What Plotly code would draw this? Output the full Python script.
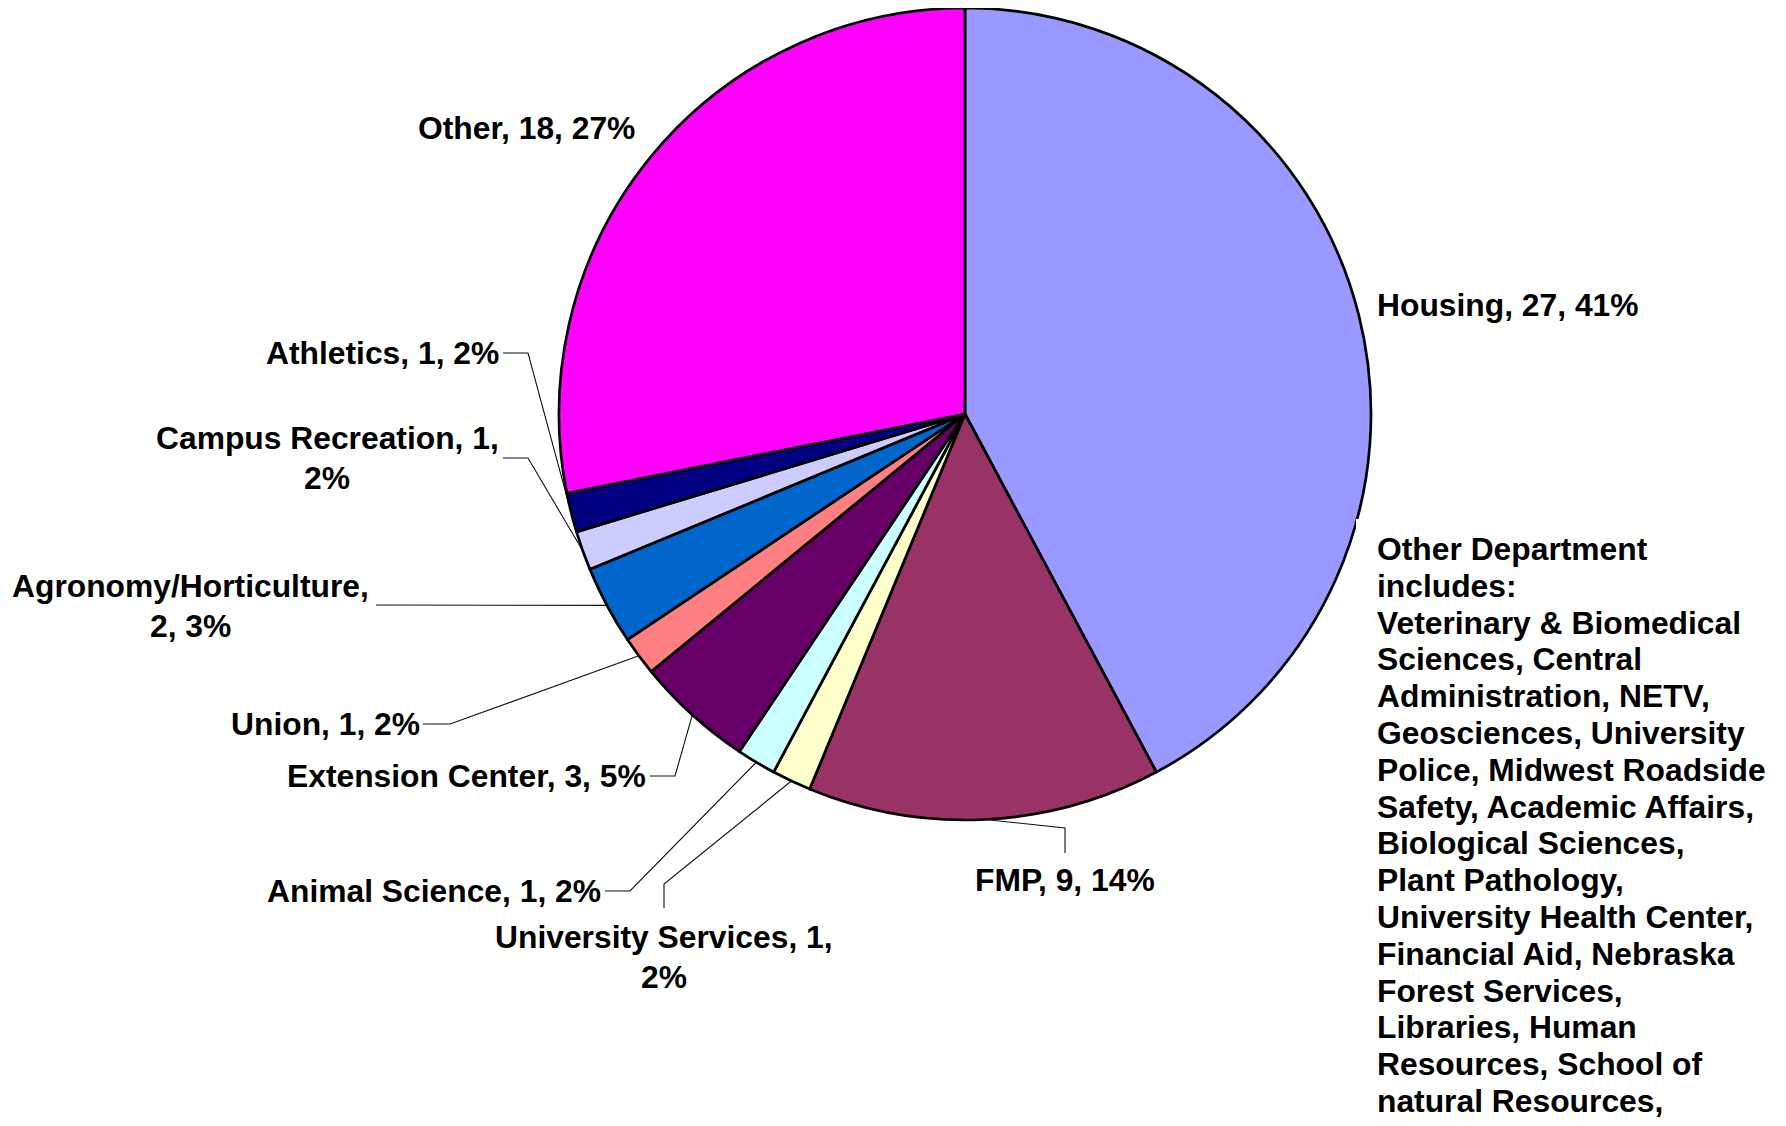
import math
import numpy as np
import plotly.graph_objects as go

# ---- data ----
departments = ["Housing", "FMP", "University Services", "Animal Science",
               "Extension Center", "Union", "Agronomy/Horticulture",
               "Campus Recreation", "Athletics", "Other"]
counts = [27, 9, 1, 1, 3, 1, 2, 1, 1, 18]
pct_labels = ["41%", "14%", "2%", "2%", "5%", "2%", "3%", "2%", "2%", "27%"]
colors = ["#9999FF", "#993366", "#FFFFCC", "#CCFFFF", "#660066",
          "#FF8080", "#0066CC", "#CCCCFF", "#000080", "#FF00FF"]
other_note = ["Other Department", "includes:", "Veterinary & Biomedical",
              "Sciences, Central", "Administration, NETV,",
              "Geosciences, University", "Police, Midwest Roadside",
              "Safety, Academic Affairs,", "Biological Sciences,",
              "Plant Pathology,", "University Health Center,",
              "Financial Aid, Nebraska", "Forest Services,",
              "Libraries, Human", "Resources, School of",
              "natural Resources,"]

# ---- layout constants (page pixels) ----
W, H = 1786, 1126
OFF = 8                      # default page body margin
Wf, Hf = W - 2 * OFF, H - 2 * OFF
CX, CY, R = 965, 414, 406
FONT = "Liberation Sans, Arial, sans-serif"
FS = 31.8

# label placement: (x, y, xanchor, parts on first line or None)
label_pos = {
    0: (1375, 305, "left", None),
    1: (1065, 880, "center", None),
    2: (664, 937, "center", 2),
    3: (603, 891, "right", None),
    4: (648, 776, "right", None),
    5: (422, 724, "right", None),
    6: (190, 586, "center", 1),
    7: (327, 438, "center", 2),
    8: (501, 353, "right", None),
    9: (637, 128, "right", None),
}
line_gap = 39.5
# leader elbows; final point is on the pie edge at the slice mid-angle
elbows = {
    1: [(1065, 853), (1065, 828)],
    2: [(664, 908), (664, 884)],
    3: [(605, 891), (630, 891)],
    4: [(650, 776), (675, 776)],
    5: [(423, 724), (450, 724)],
    6: [(376, 605), (400, 605)],
    7: [(503, 458), (528, 458)],
    8: [(503, 353), (528, 353)],
}

fig = go.Figure()

fig.add_trace(go.Pie(
    labels=departments, values=counts, sort=False, direction="clockwise",
    rotation=0, marker=dict(colors=colors, line=dict(color="black", width=2.7)),
    textinfo="none", hoverinfo="label+value", showlegend=False,
    domain=dict(x=[(CX - R - OFF) / Wf, (CX + R - OFF) / Wf],
                y=[1 - (CY + R - OFF) / Hf, 1 - (CY - R - OFF) / Hf]),
))

# leader lines
total = sum(counts)
cum = np.cumsum(counts)
lx, ly = [], []
for i, pts in elbows.items():
    mid = (cum[i] - counts[i] / 2) / total * 2 * math.pi
    px, py = CX + R * math.sin(mid), CY - R * math.cos(mid)
    for (x, y) in pts:
        lx.append(x); ly.append(y)
    lx += [px, None]; ly += [py, None]
fig.add_trace(go.Scatter(x=lx, y=ly, mode="lines",
                         line=dict(color="#111111", width=1.1),
                         hoverinfo="skip", showlegend=False))

annotations = []
for i, name in enumerate(departments):
    parts = [name, str(counts[i]), pct_labels[i]]
    x, y, anc, split = label_pos[i]
    if split is None:
        lines = [", ".join(parts)]
    else:
        lines = [", ".join(parts[:split]) + ",", ", ".join(parts[split:])]
    for k, t in enumerate(lines):
        annotations.append(dict(x=x, y=y + k * line_gap, xref="x", yref="y",
                                text="<b>" + t + "</b>", showarrow=False,
                                xanchor=anc, yanchor="middle",
                                font=dict(family=FONT, size=FS, color="black")))

for k, t in enumerate(other_note):
    annotations.append(dict(x=1375, y=549 + k * 36.8, xref="x", yref="y",
                            text="<b>" + t + "</b>", showarrow=False,
                            xanchor="left", yanchor="middle",
                            font=dict(family=FONT, size=FS, color="black")))

fig.update_layout(
    width=Wf, height=Hf, margin=dict(l=0, r=0, t=0, b=0),
    paper_bgcolor="white", plot_bgcolor="rgba(0,0,0,0)",
    xaxis=dict(range=[OFF, W - OFF], visible=False, fixedrange=True),
    yaxis=dict(range=[H - OFF, OFF], visible=False, fixedrange=True),
    annotations=annotations,
    shapes=[dict(type="rect", xref="x", yref="y", x0=1356, x1=W, y0=519, y1=H,
                 fillcolor="white", line=dict(width=0), layer="above")],
)

fig.write_html("out.html")
